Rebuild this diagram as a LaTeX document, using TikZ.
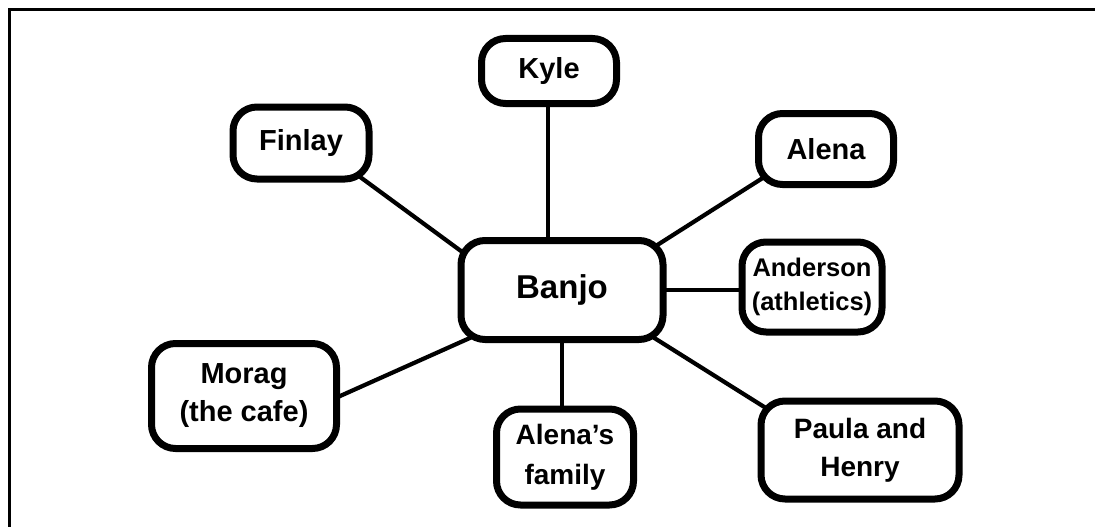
\documentclass[tikz,border=0pt]{standalone}
\usepackage{fontspec}
\setmainfont{Liberation Sans}
\usetikzlibrary{backgrounds}
\tikzset{
  bubble/.style={draw=black, fill=white, line width=7pt, rounded corners=24pt,
    inner sep=0pt, align=center, font=\fontsize{29}{38}\selectfont\bfseries},
  link/.style={draw=black, line width=4.2pt},
  frame/.style={draw=black, line width=3pt}
}
\begin{document}
\begin{tikzpicture}[x=1pt,y=-1pt]
\useasboundingbox (0,0) rectangle (1095,527);
\coordinate (ftl) at (9,10);
\coordinate (ftr) at (1095,10);
\coordinate (fbl) at (9,527);
\draw[frame] (ftr) -- (ftl) -- (fbl);

\node[bubble, minimum width=202pt, minimum height=99pt, font=\fontsize{33}{40}\selectfont\bfseries] (banjo) at (562,290) {Banjo};
\node[bubble, minimum width=135pt, minimum height=65pt] (kyle) at (549,71) {Kyle};
\node[bubble, minimum width=136pt, minimum height=72pt] (finlay) at (301,143) {Finlay};
\node[bubble, minimum width=135pt, minimum height=71pt] (alena) at (826,149) {Alena};
\node[bubble, minimum width=140pt, minimum height=90pt, font=\fontsize{25.5}{34}\selectfont\bfseries] (anderson) at (812,287) {Anderson\\(athletics)};
\node[bubble, minimum width=185pt, minimum height=105pt] (morag) at (244,396) {Morag\\(the cafe)};
\node[bubble, minimum width=137pt, minimum height=96pt, font=\fontsize{28}{40}\selectfont\bfseries] (family) at (565,457) {Alena’s\\family};
\node[bubble, minimum width=198pt, minimum height=98pt, font=\fontsize{28}{38}\selectfont\bfseries] (paula) at (860,450) {Paula and\\Henry};

\begin{scope}[on background layer]
\draw[link] ([shift={(-14,-30)}]banjo.center) -- ([shift={(-1,20)}]kyle.center);
\draw[link] ([shift={(-82,-25)}]banjo.center) -- ([shift={(36,17)}]finlay.center);
\draw[link] ([shift={(78,-34)}]banjo.center) -- ([shift={(-46,18)}]alena.center);
\draw[link] ([shift={(80,0)}]banjo.center) -- ([shift={(-50,3)}]anderson.center);
\draw[link] ([shift={(-72,39)}]banjo.center) -- ([shift={(76,9)}]morag.center);
\draw[link] ([shift={(0,30)}]banjo.center) -- ([shift={(-3,-30)}]family.center);
\draw[link] ([shift={(78,39)}]banjo.center) -- ([shift={(-75,-30)}]paula.center);
\end{scope}
\end{tikzpicture}
\end{document}
